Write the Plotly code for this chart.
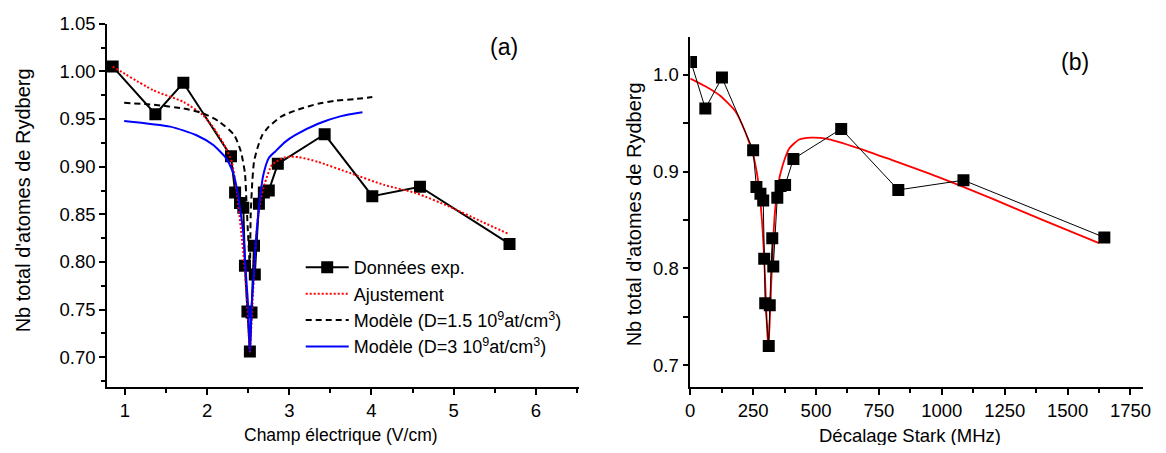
import plotly.graph_objects as go

# ---------------- Panel (a) data ----------------
a_x = [0.85, 1.37, 1.71, 2.29, 2.34, 2.40, 2.44, 2.46, 2.49, 2.52, 2.54, 2.57, 2.58, 2.63, 2.69, 2.75, 2.86, 3.43, 4.01, 4.59, 5.68]
a_y = [1.005, 0.955, 0.988, 0.911, 0.873, 0.862, 0.857, 0.796, 0.748, 0.706, 0.747, 0.817, 0.787, 0.861, 0.873, 0.875, 0.903, 0.934, 0.869, 0.879, 0.819]

fit_a_x = [0.85, 1.35, 1.71, 1.95, 2.11, 2.23, 2.30, 2.36, 2.41, 2.45, 2.48, 2.50, 2.52, 2.54, 2.56, 2.58, 2.61, 2.65, 2.70, 2.79, 2.95, 3.11, 3.35, 3.75, 4.15, 4.55, 4.95, 5.35, 5.68]
fit_a_y = [1.005, 0.980, 0.968, 0.954, 0.937, 0.919, 0.905, 0.874, 0.835, 0.800, 0.765, 0.735, 0.706, 0.735, 0.770, 0.805, 0.840, 0.865, 0.882, 0.902, 0.910, 0.910, 0.905, 0.893, 0.881, 0.872, 0.858, 0.842, 0.829]

mod15_x = [0.99, 1.35, 1.71, 1.95, 2.15, 2.33, 2.41, 2.46, 2.48, 2.50, 2.52, 2.53, 2.55, 2.57, 2.61, 2.67, 2.75, 2.91, 3.11, 3.35, 3.55, 3.80, 4.01]
mod15_y = [0.967, 0.965, 0.961, 0.956, 0.947, 0.933, 0.916, 0.893, 0.860, 0.825, 0.795, 0.850, 0.885, 0.905, 0.919, 0.933, 0.942, 0.953, 0.960, 0.966, 0.969, 0.971, 0.973]

mod3_x = [0.99, 1.55, 1.87, 2.07, 2.23, 2.31, 2.36, 2.40, 2.44, 2.47, 2.50, 2.52, 2.54, 2.57, 2.60, 2.64, 2.68, 2.75, 2.83, 2.95, 3.07, 3.35, 3.63, 3.89]
mod3_y = [0.948, 0.942, 0.933, 0.923, 0.909, 0.895, 0.878, 0.856, 0.830, 0.790, 0.752, 0.706, 0.752, 0.790, 0.830, 0.865, 0.890, 0.909, 0.916, 0.926, 0.933, 0.945, 0.953, 0.957]

# ---------------- Panel (b) data ----------------
b_x = [3, 60, 126, 250, 263, 279, 290, 294, 298, 312, 316, 326, 330, 346, 359, 377, 410, 600, 827, 1086, 1646]
b_y = [1.013, 0.965, 0.997, 0.922, 0.884, 0.877, 0.870, 0.810, 0.764, 0.720, 0.762, 0.831, 0.802, 0.873, 0.885, 0.886, 0.913, 0.944, 0.881, 0.891, 0.832]

fit_b_x = [0, 60, 120, 180, 220, 250, 270, 283, 292, 298, 304, 310, 316, 322, 328, 336, 348, 368, 394, 433, 480, 540, 670, 800, 1000, 1200, 1400, 1625]
fit_b_y = [0.996, 0.988, 0.978, 0.962, 0.940, 0.917, 0.890, 0.856, 0.820, 0.785, 0.745, 0.718, 0.745, 0.785, 0.820, 0.856, 0.885, 0.907, 0.924, 0.933, 0.935, 0.934, 0.924, 0.912, 0.893, 0.872, 0.850, 0.826]

FONT = "Arial, Liberation Sans, sans-serif"
# page body keeps its default 8px margin: figure is sized so page == window
M = 8
FW, FH = 1166 - 2 * M, 453 - 2 * M


def px(x):
    return (x - M) / FW


def py(y):
    # small empirical vertical correction
    yy = (y - 9.5) / 0.976
    return 1 - (yy - M) / FH


fig = go.Figure()

fig.add_trace(go.Scatter(x=a_x, y=a_y, mode="lines+markers", name="Données exp.",
                         line=dict(color="black", width=2),
                         marker=dict(symbol="square", size=12, color="black"),
                         xaxis="x", yaxis="y"))
fig.add_trace(go.Scatter(x=fit_a_x, y=fit_a_y, mode="lines", name="Ajustement",
                         line=dict(color="red", width=2, dash="2px,2px", shape="spline", smoothing=0.6),
                         xaxis="x", yaxis="y"))
fig.add_trace(go.Scatter(x=mod15_x, y=mod15_y, mode="lines",
                         name="Modèle (D=1.5 10<sup>9</sup>at/cm<sup>3</sup>)",
                         line=dict(color="black", width=2, dash="6px,4px", shape="spline", smoothing=0.6),
                         xaxis="x", yaxis="y"))
fig.add_trace(go.Scatter(x=mod3_x, y=mod3_y, mode="lines",
                         name="Modèle (D=3 10<sup>9</sup>at/cm<sup>3</sup>)",
                         line=dict(color="#0000ff", width=2, shape="spline", smoothing=0.6),
                         xaxis="x", yaxis="y"))

fig.add_trace(go.Scatter(x=fit_b_x, y=fit_b_y, mode="lines", showlegend=False,
                         line=dict(color="red", width=1.8, shape="spline", smoothing=0.6),
                         xaxis="x2", yaxis="y2"))
fig.add_trace(go.Scatter(x=b_x, y=b_y, mode="lines+markers", showlegend=False,
                         line=dict(color="black", width=1),
                         marker=dict(symbol="square", size=12, color="black"),
                         xaxis="x2", yaxis="y2"))

axis_common = dict(showgrid=False, zeroline=False, showline=True, linecolor="black", linewidth=1.5,
                   ticks="outside", ticklen=6, tickwidth=1.5, tickcolor="black",
                   tickfont=dict(family=FONT, size=18.5, color="black"), mirror=False,
                   ticklabeloverflow="allow")

BOT = 386
fig.update_layout(
    width=FW, height=FH, margin=dict(l=0, r=0, t=0, b=0),
    plot_bgcolor="white", paper_bgcolor="white",
    font=dict(family=FONT, color="black"),
    xaxis=dict(domain=[px(103), px(580)], range=[0.78, 6.52], tick0=0, dtick=1,
               minor=dict(dtick=0.5, ticklen=4, tickwidth=1.5, ticks="outside", tickcolor="black"),
               anchor="y", **axis_common),
    yaxis=dict(domain=[py(BOT), py(22)], range=[0.6686, 1.05], tick0=0, dtick=0.05, tickformat=".2f",
               minor=dict(dtick=0.025, ticklen=4, tickwidth=1.5, ticks="outside", tickcolor="black"),
               anchor="x", **axis_common),
    xaxis2=dict(domain=[px(693), px(1151)], range=[0, 1800], tick0=0, dtick=250,
                minor=dict(dtick=125, ticklen=4, tickwidth=1.5, ticks="outside", tickcolor="black"),
                anchor="y2", **axis_common),
    yaxis2=dict(domain=[py(BOT), py(35)], range=[0.6773, 1.0392], tick0=0, dtick=0.1, tickformat=".1f",
                minor=dict(dtick=0.05, ticklen=6, tickwidth=1.5, ticks="outside", tickcolor="black"),
                anchor="x2", **axis_common),
    legend=dict(x=px(299), y=1 - (244 - M) / FH, xanchor="left", yanchor="top",
                bgcolor="rgba(0,0,0,0)", borderwidth=0, itemwidth=43,
                font=dict(family=FONT, size=18, color="black"), tracegroupgap=0),
    showlegend=True,
)

annots = [
    dict(text="(a)", x=505, y=45, size=23),
    dict(text="(b)", x=1082, y=60, size=23),
    dict(text="Champ électrique (V/cm)", x=340, y=434, size=17.5),
    dict(text="Décalage Stark (MHz)", x=915, y=434, size=18.5),
    dict(text="Nb total d'atomes de Rydberg", x=19, y=199, size=20, angle=-90),
    dict(text="Nb total d'atomes de Rydberg", x=637, y=213, size=20, angle=-90),
]
for a in annots:
    fig.add_annotation(xref="paper", yref="paper", xanchor="center", yanchor="middle",
                       showarrow=False, text=a["text"], x=px(a["x"]), y=py(a["y"]),
                       textangle=a.get("angle", 0),
                       font=dict(family=FONT, color="black", size=a["size"]))

fig.write_html("out.html", config={"displayModeBar": False})
